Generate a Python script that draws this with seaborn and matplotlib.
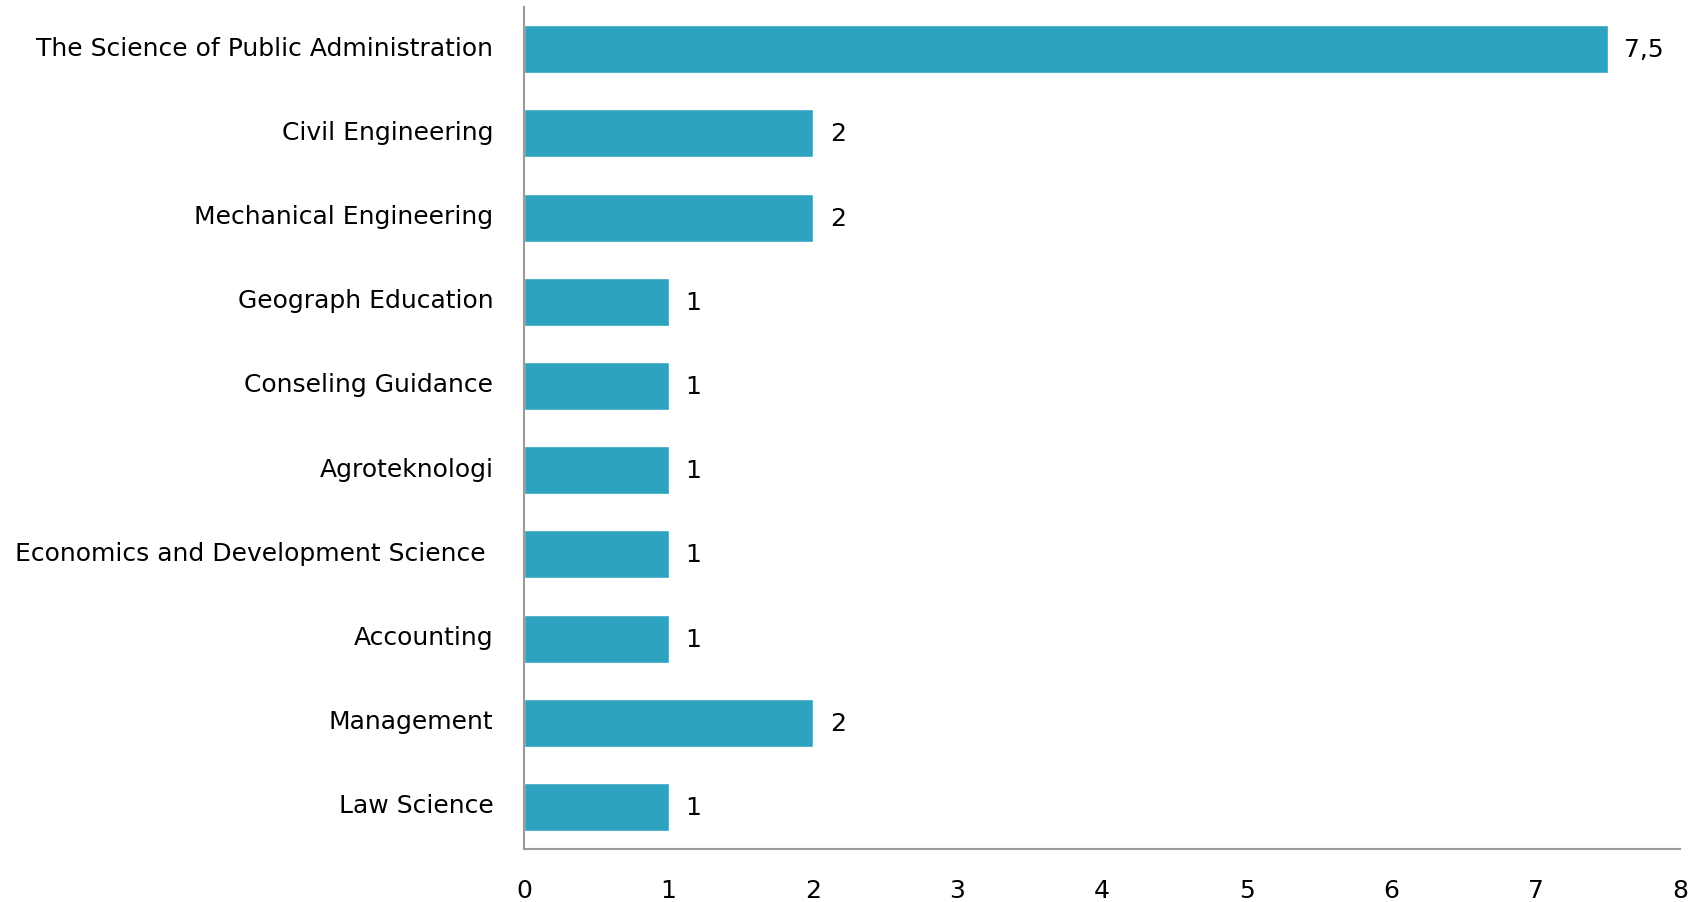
import pandas as pd
import seaborn as sns
import matplotlib
matplotlib.use("Agg")
import matplotlib.pyplot as plt
from matplotlib.transforms import ScaledTranslation

# data, top to bottom
programs = [
    "The Science of Public Administration",
    "Civil Engineering",
    "Mechanical Engineering",
    "Geograph Education",
    "Conseling Guidance",
    "Agroteknologi",
    "Economics and Development Science ",
    "Accounting",
    "Management",
    "Law Science",
]
values = [7.5, 2, 2, 1, 1, 1, 1, 1, 2, 1]
x_ticks = [0, 1, 2, 3, 4, 5, 6, 7, 8]

BAR_COLOR = "#2DA3BF"
AXIS_COLOR = "#9A9A9A"
FS = 18

sns.set_theme(style="white")
plt.rcParams["font.family"] = ["DejaVu Sans"]

df = pd.DataFrame({"program": programs, "value": values})

fig = plt.figure(figsize=(17.03, 9.03), dpi=100)
ax = fig.add_axes([0.3077, 0.0587, 0.9865 - 0.3077, 0.991 - 0.0587])

sns.barplot(data=df, y="program", x="value", color=BAR_COLOR,
            saturation=1, width=0.57, orient="h", ax=ax)

labels = [f"{v:g}".replace(".", ",") for v in values]
ax.bar_label(ax.containers[0], labels=labels, padding=12, fontsize=FS, color="black")

ax.set_xlim(0, 8)
ax.set_xticks(x_ticks)
ax.set_xlabel("")
ax.set_ylabel("")
ax.tick_params(axis="y", length=0, pad=22, labelsize=FS, labelcolor="black")
ax.tick_params(axis="x", length=0, pad=21, labelsize=FS, labelcolor="black")

# category labels sit a little above the bar centres in the original
shift = ScaledTranslation(0, 4 / 100, fig.dpi_scale_trans)
for lab in ax.get_yticklabels():
    lab.set_transform(lab.get_transform() + shift)

sns.despine(ax=ax, top=True, right=True)
for side in ("left", "bottom"):
    ax.spines[side].set_color(AXIS_COLOR)
    ax.spines[side].set_linewidth(1.5)

fig.savefig("out.png", dpi=100)
